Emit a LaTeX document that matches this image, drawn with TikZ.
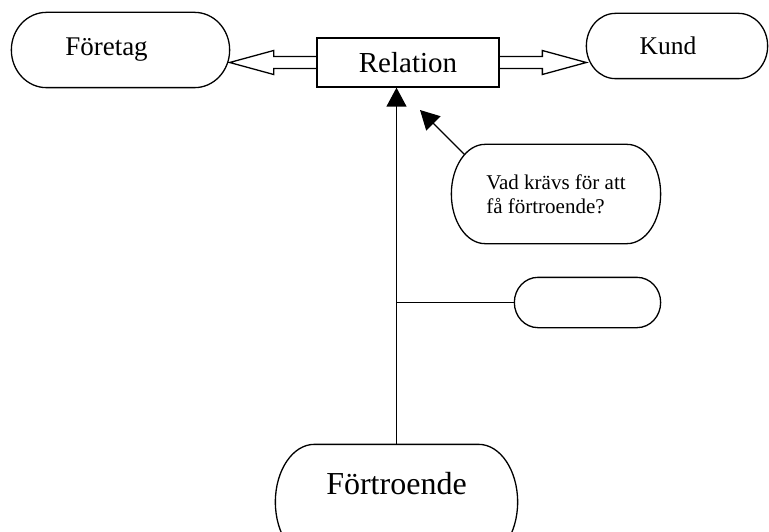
\documentclass[tikz,border=0pt]{standalone}
\usepackage{fontspec}
\setmainfont{Liberation Serif}
\usetikzlibrary{calc,arrows.meta}
\tikzset{>={Triangle[length=19pt,width=20pt]}}
\newcommand{\termframe}[1]{% outline with elliptic ends round node #1
  \draw let \p1=(#1.north east), \p2=(#1.south west),
    \n1={0.161*(\x1-\x2)}, \n2={(\y1-\y2)/2} in
    ($(#1.north west)+(\n1,0)$) -- ($(#1.north east)-(\n1,0)$)
    arc[start angle=90,end angle=-90,x radius=\n1,y radius=\n2]
    -- ($(#1.south west)+(\n1,0)$)
    arc[start angle=270,end angle=90,x radius=\n1,y radius=\n2] -- cycle;}

\begin{document}
\begin{tikzpicture}[x=1pt,y=1pt,line width=1.3pt,
    term/.style={inner sep=0pt,minimum width=#1},
    fsz/.style={font=\fontsize{#1}{#1}\selectfont}]
  \useasboundingbox (0,0) rectangle (769,-532);
  \node[term=217pt,minimum height=74pt,fsz=27] (foretag) at (120.5,-50) {\hspace*{-28pt}Företag};
  \node[term=180pt,minimum height=64pt,fsz=25.5] (kund) at (677,-46) {\hspace*{-18pt}Kund};
  \node[draw,inner sep=0pt,minimum width=182pt,minimum height=49pt,fsz=29] (rel) at (408,-62.5) {Relation};
  \node[term=208pt,minimum height=98pt,align=left,font=\fontsize{21}{24}\selectfont] (fraga) at (556,-194)
    {Vad krävs för att\\få förtroende?};
  \node[term=145pt,minimum height=49pt] (tom) at (587.5,-302.5) {};
  \node[term=241pt,minimum height=114pt,fsz=32] (fort) at (396.5,-502)
    {\raisebox{18pt}[\height][\depth]{Förtroende}};
  \foreach \nd in {foretag,kund,fraga,tom,fort}{\termframe{\nd}} % rounded frames
  % block arrows out of the relation box
  \draw ($(rel.west)+(0,6)$) -- ($(foretag.east |- rel.west)+(44,6)$) -- ++(0,6)
    -- (foretag.east |- rel.west) -- ++(44,-12) -- ++(0,6) -- ($(rel.west)+(0,-6)$);
  \draw ($(rel.east)+(0,6)$) -- ($(kund.west |- rel.east)+(-44,6)$) -- ++(0,6)
    -- (kund.west |- rel.east) -- ++(-44,-12) -- ++(0,6) -- ($(rel.east)+(0,-6)$);
  \draw[->] (fort.north) -- (fort.north |- rel.south); % main line
  \draw (fort.north |- tom.west) -- (tom.west); % branch
  \coordinate (q) at (420,-110);
  \draw[->] ($(fraga.north west)+(13,-10)$) -- (q);
\end{tikzpicture}
\end{document}
